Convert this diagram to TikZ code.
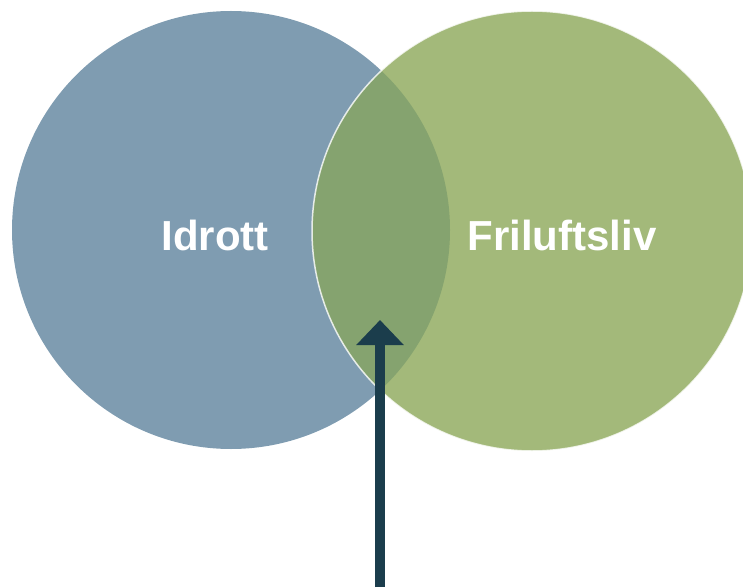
\documentclass[tikz,border=0pt]{standalone}
\usepackage{fontspec}
\setmainfont{Liberation Sans}
\usetikzlibrary{arrows.meta}
\definecolor{blueC}{HTML}{7F9CB1}
\definecolor{greenC}{HTML}{A3B97A}
\definecolor{midC}{HTML}{85A36F}
\definecolor{arrowC}{HTML}{1B3D4C}
\tikzset{
  lbl/.style={text=white, font=\bfseries\fontsize{42}{48}\selectfont, inner sep=0pt},
}
\begin{document}
\begin{tikzpicture}[x=1pt,y=1pt]
\useasboundingbox (0,0) rectangle (743,587);
\begin{scope}
\clip (0,0) rectangle (743,587);
\fill[blueC] (231,357) circle (219);
\fill[greenC] (532,356) circle (220);
\begin{scope}
\clip (231,357) circle (219);
\fill[midC] (532,356) circle (220);
\end{scope}
\draw[white, opacity=0.8, line width=1.5pt] (532,356) circle (220);
\end{scope}
\node[lbl] (idrott) at (215,352) {Idrott};
\node[lbl] (fril) at (562,352) {Friluftsliv};
\coordinate (tail) at (380,0);
\coordinate (tip) at (380,267);
\draw[arrowC, line width=10pt, -{Triangle[width=46pt,length=25pt]}] (tail) -- (tip);
\end{tikzpicture}
\end{document}
